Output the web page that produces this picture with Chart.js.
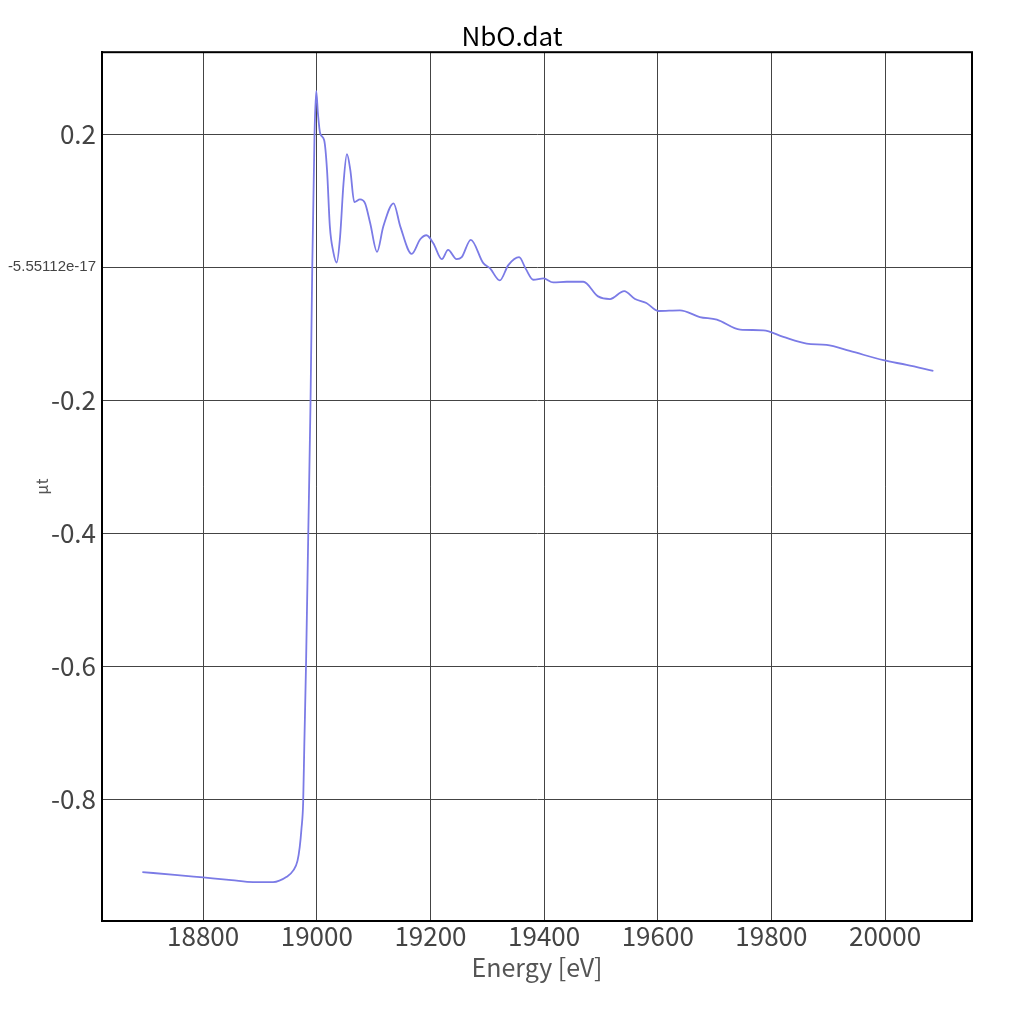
<!DOCTYPE html>
<html lang="en">
<head>
    <meta charset="UTF-8">
    <title>NbO.dat</title>
    <script src="https://cdn.jsdelivr.net/npm/chart.js"></script>
    <style>
        body {
            margin: 0;
            padding: 0;
            background: #fff;
        }
        #chart {
            display: block;
        }
    </style>
</head>
<body>
    <canvas id="chart" width="1024" height="1024"></canvas>

    <script>
        // energy [eV] and absorption
        const energy = [
            18693, 18750, 18800, 18850, 18888, 18923, 18947, 18959, 18966, 18970,
            18973, 18976, 18978, 18981, 18985, 18989, 18992, 18996, 18999, 19002,
            19006, 19013, 19018, 19023, 19029, 19035, 19041, 19047, 19053, 19059,
            19066, 19076, 19085, 19094, 19106, 19117, 19135, 19147, 19167, 19182,
            19193, 19205, 19220, 19231, 19246, 19255, 19271, 19293, 19305, 19322,
            19337, 19356, 19368, 19381, 19399, 19416, 19440, 19469, 19495, 19516,
            19541, 19560, 19580, 19601, 19639, 19674, 19704, 19745, 19786, 19821,
            19862, 19897, 19938, 19997, 20038, 20085
        ];
        const mut = [
            -0.910, -0.914, -0.918, -0.922, -0.925, -0.925, -0.917, -0.907, -0.893, -0.872,
            -0.845, -0.805, -0.720, -0.600, -0.400, -0.200, 0.000, 0.200, 0.265, 0.231,
            0.201, 0.191, 0.146, 0.061, 0.023, 0.007, 0.046, 0.126, 0.170, 0.146,
            0.098, 0.102, 0.096, 0.066, 0.023, 0.061, 0.096, 0.061, 0.020, 0.042,
            0.048, 0.036, 0.012, 0.026, 0.012, 0.015, 0.041, 0.006, -0.002, -0.020,
            0.003, 0.015, -0.003, -0.019, -0.017, -0.023, -0.022, -0.022, -0.044, -0.048,
            -0.036, -0.048, -0.054, -0.066, -0.065, -0.075, -0.079, -0.094, -0.095, -0.105,
            -0.115, -0.117, -0.126, -0.140, -0.147, -0.156
        ];

        const xTicks = [18800, 19000, 19200, 19400, 19600, 19800, 20000];
        const yTicks = [-0.8, -0.6, -0.4, -0.2, -5.55112e-17, 0.2];
        const yTickLabels = ['-0.8', '-0.6', '-0.4', '-0.2', '-5.55112e-17', '0.2'];

        const points = energy.map((e, i) => ({ x: e, y: mut[i] }));

        // black frame round the plot area
        const frame = {
            id: 'frame',
            afterDraw(chart) {
                const { ctx, chartArea: a } = chart;
                ctx.save();
                ctx.strokeStyle = '#000';
                ctx.lineWidth = 2;
                ctx.strokeRect(a.left, a.top, a.right - a.left, a.bottom - a.top);
                ctx.restore();
            }
        };

        const font = "'Noto Sans CJK JP', 'Noto Sans', sans-serif";

        new Chart(document.getElementById('chart'), {
            type: 'line',
            data: {
                datasets: [{
                    data: points,
                    borderColor: '#7b7be6',
                    borderWidth: 1.8,
                    pointRadius: 0,
                    fill: false,
                    cubicInterpolationMode: 'monotone'
                }]
            },
            options: {
                responsive: false,
                animation: false,
                devicePixelRatio: 1,
                layout: { padding: 0 },
                plugins: {
                    legend: { display: false },
                    tooltip: { enabled: false },
                    title: {
                        display: true,
                        text: 'NbO.dat',
                        color: '#000',
                        font: { family: font, size: 26, weight: 'normal' },
                        padding: { top: 21, bottom: 0 }
                    }
                },
                scales: {
                    x: {
                        type: 'linear',
                        min: 18622,
                        max: 20153,
                        afterBuildTicks: s => { s.ticks = xTicks.map(v => ({ value: v })); },
                        afterFit: s => { s.height = 103; },
                        ticks: {
                            color: '#444',
                            padding: 0,
                            maxRotation: 0,
                            font: { family: font, size: 26 },
                            callback: v => String(v)
                        },
                        grid: { color: '#444', lineWidth: 1, drawTicks: false },
                        border: { display: true, color: '#000', width: 2 },
                        title: {
                            display: true,
                            text: 'Energy [eV]',
                            color: '#555',
                            font: { family: font, size: 25 },
                            padding: { top: 0, bottom: 42 }
                        }
                    },
                    y: {
                        type: 'linear',
                        min: -0.9835,
                        max: 0.3233,
                        afterBuildTicks: s => { s.ticks = yTicks.map(v => ({ value: v })); },
                        afterFit: s => { s.width = 102; },
                        ticks: {
                            color: '#444',
                            padding: 6,
                            font: ctx => (ctx.tick && Math.abs(ctx.tick.value) < 1e-9)
                                ? { family: "'Liberation Sans', Arial, sans-serif", size: 15 }
                                : { family: font, size: 26 },
                            callback: (v, i) => yTickLabels[i]
                        },
                        grid: { color: '#444', lineWidth: 1, drawTicks: false },
                        border: { display: true, color: '#000', width: 2 },
                        title: {
                            display: true,
                            text: 'µt',
                            color: '#555',
                            font: { family: font, size: 16 },
                            padding: { top: 32, bottom: 0 }
                        }
                    },
                    // empty right margin so the title centres on the page
                    pad: {
                        type: 'linear',
                        position: 'right',
                        afterFit: s => { s.width = 52; },
                        ticks: { display: false },
                        grid: { display: false },
                        border: { display: false }
                    }
                }
            },
            plugins: [frame]
        });
    </script>
</body>
</html>
